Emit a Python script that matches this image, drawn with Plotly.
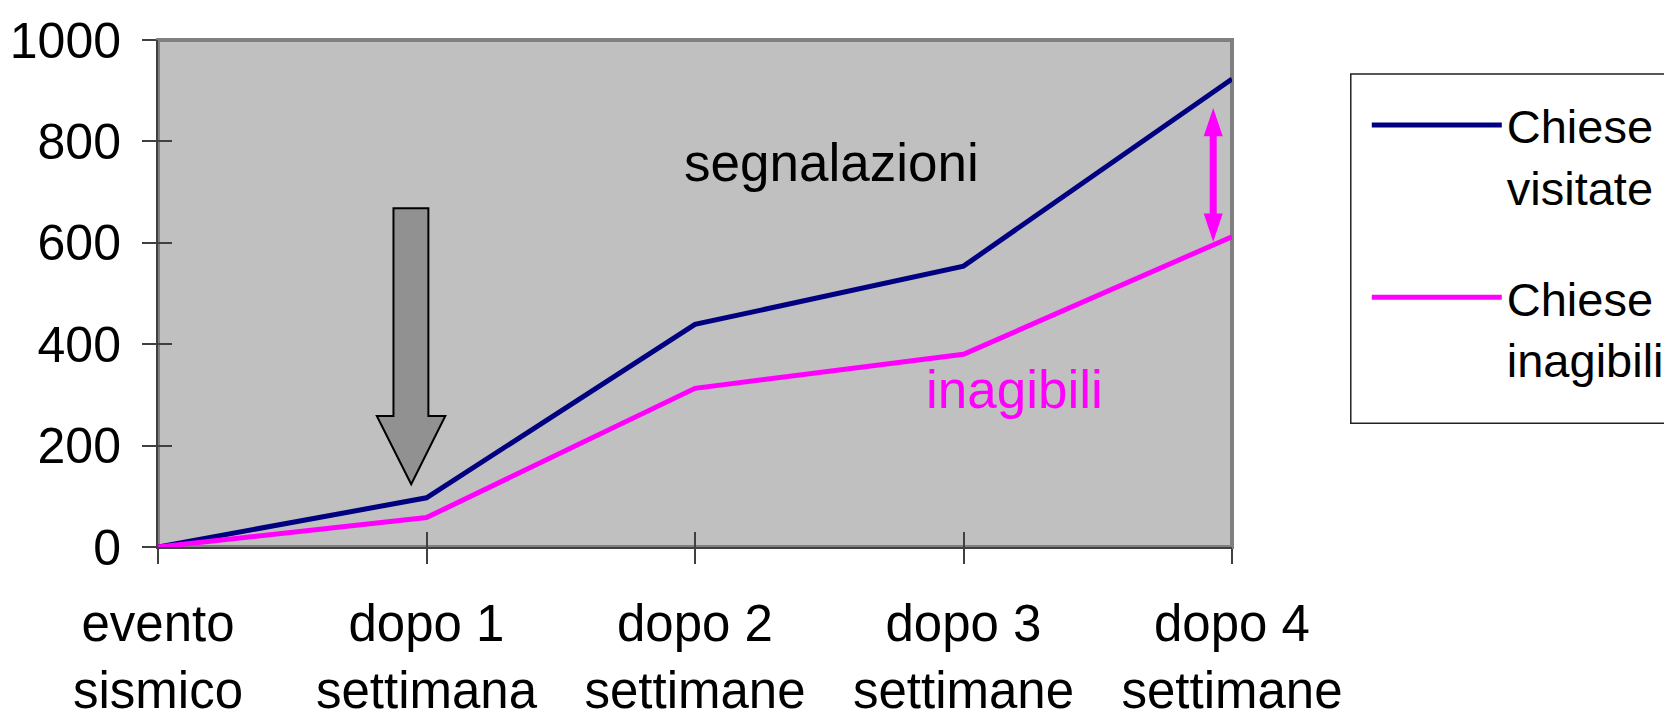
import plotly.graph_objects as go

categories = ["evento<br>sismico", "dopo 1<br>settimana", "dopo 2<br>settimane",
              "dopo 3<br>settimane", "dopo 4<br>settimane"]
visitate = [0, 97, 439, 554, 923]
inagibili = [0, 58, 313, 380, 612]
y_ticks = [0, 200, 400, 600, 800, 1000]
series_names = ["Chiese<br>visitate", "Chiese<br>inagibili"]
series_colors = ["#000080", "#FF00FF"]

FONT = "Liberation Sans, Arial, sans-serif"
xs = list(range(len(categories)))

fig = go.Figure()
for name, vals, col in zip(series_names, [visitate, inagibili], series_colors):
    fig.add_trace(go.Scatter(x=xs, y=vals, mode="lines", name=name,
                             legendgroup=name,
                             line=dict(color=col, width=5)))

# grey down arrow (data coordinates)
ga = dict(sl=0.877, sr=1.007, hl=0.815, hr=1.070, tx=0.943, top=668, base=258.5, tip=123.7)
fig.add_shape(type="path", xref="x", yref="y",
              path=(f"M{ga['sl']},{ga['top']} L{ga['sr']},{ga['top']} L{ga['sr']},{ga['base']} "
                    f"L{ga['hr']},{ga['base']} L{ga['tx']},{ga['tip']} L{ga['hl']},{ga['base']} "
                    f"L{ga['sl']},{ga['base']} Z"),
              fillcolor="#919191", line=dict(color="black", width=2), layer="below")

# magenta double arrow
da = dict(cx=3.930, sw=0.013, hw=0.0354, top=866, tb=810, bot=602, bb=658)
fig.add_shape(type="path", xref="x", yref="y",
              path=(f"M{da['cx']},{da['top']} L{da['cx']+da['hw']},{da['tb']} L{da['cx']+da['sw']},{da['tb']} "
                    f"L{da['cx']+da['sw']},{da['bb']} L{da['cx']+da['hw']},{da['bb']} L{da['cx']},{da['bot']} "
                    f"L{da['cx']-da['hw']},{da['bb']} L{da['cx']-da['sw']},{da['bb']} L{da['cx']-da['sw']},{da['tb']} "
                    f"L{da['cx']-da['hw']},{da['tb']} Z"),
              fillcolor="#FF00FF", line=dict(width=0), layer="above")

# plot-area frame
fig.add_shape(type="rect", xref="paper", yref="paper", x0=0, x1=1, y0=0, y1=1,
              line=dict(color="#808080", width=4), layer="below")

# legend frame
fig.add_shape(type="rect", xref="paper", yref="paper", x0=1.1106, x1=1.6, y0=0.2441, y1=0.9329,
              line=dict(color="#222222", width=1.5), fillcolor="white", layer="below")

fig.add_annotation(x=2.51, y=759, text="segnalazioni", showarrow=False,
                   font=dict(family=FONT, size=53, color="black"))
fig.add_annotation(x=3.19, y=310, text="inagibili", showarrow=False,
                   font=dict(family=FONT, size=53, color="#FF00FF"))

# page body has an 8px margin; figure is sized/offset to compensate
fig.update_layout(
    width=1664, height=709,
    margin=dict(l=150, r=440, t=32, b=170, pad=0, autoexpand=False),
    paper_bgcolor="white", plot_bgcolor="#C0C0C0",
    font=dict(family=FONT, size=50, color="black"),
    showlegend=True,
    legend=dict(x=1.1255, y=0.9052, xanchor="left", yanchor="top",
                bgcolor="rgba(0,0,0,0)", borderwidth=0,
                font=dict(family=FONT, size=47, color="black"),
                itemwidth=130, valign="top", tracegroupgap=47,
                traceorder="grouped"),
    xaxis=dict(range=[0, 4], tickvals=xs, ticktext=categories, automargin=False,
               showgrid=False, zeroline=False, showline=True, linecolor="#404040", linewidth=2,
               ticks="outside", ticklen=15, tickwidth=1.5, tickcolor="#404040",
               ticklabelstandoff=16, tickfont=dict(size=51), fixedrange=True),
    yaxis=dict(range=[0, 1000], tickvals=y_ticks, automargin=False,
               showgrid=False, zeroline=False, showline=True, linecolor="#404040", linewidth=2,
               ticks="outside", ticklen=14, tickwidth=1.5, tickcolor="#404040",
               ticklabelstandoff=11, tickfont=dict(size=50), fixedrange=True),
    xaxis2=dict(overlaying="x", range=[0, 4], tickvals=xs, showticklabels=False, automargin=False,
                ticks="inside", ticklen=15, tickwidth=1.5, tickcolor="#404040",
                showgrid=False, zeroline=False, showline=False, side="bottom"),
    yaxis2=dict(overlaying="y", range=[0, 1000], tickvals=y_ticks, showticklabels=False, automargin=False,
                ticks="inside", ticklen=14, tickwidth=1.5, tickcolor="#404040",
                showgrid=False, zeroline=False, showline=False, side="left"),
)
fig.add_trace(go.Scatter(x=[None], y=[None], xaxis="x2", yaxis="y2", showlegend=False,
                         hoverinfo="skip"))

fig.write_html("out.html")
